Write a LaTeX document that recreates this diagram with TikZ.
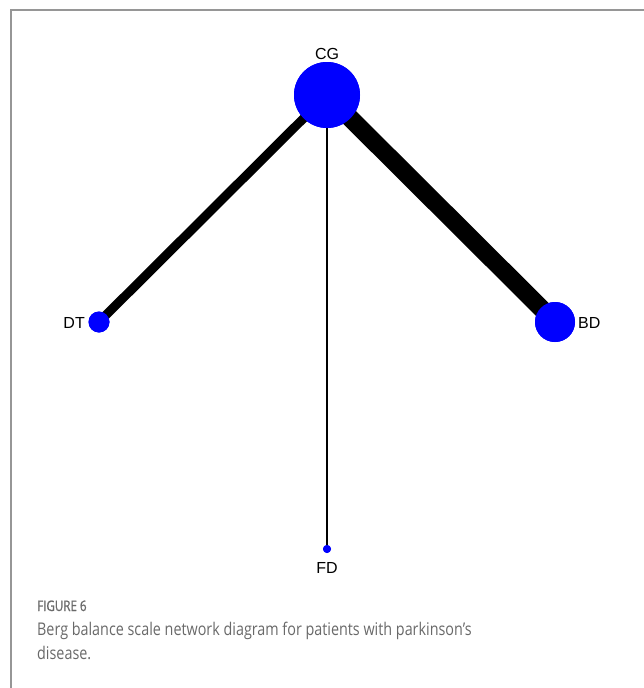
\documentclass[tikz,border=0pt]{standalone}
\usepackage{fontspec}
\setmainfont{Liberation Sans}
\newfontfamily\capfont[FakeStretch=0.82]{Open Sans}
\newfontfamily\figfont[FakeStretch=0.8,FakeBold=1.2]{Open Sans}
\definecolor{nodeblue}{RGB}{0,0,255}
\definecolor{capgray}{RGB}{105,105,105}
\definecolor{framegray}{RGB}{150,150,150}
\begin{document}
\begin{tikzpicture}[x=1pt,y=-1pt,
  netnode/.style={circle,fill=nodeblue,inner sep=0pt,draw=none},
  lbl/.style={font=\fontsize{16}{18}\selectfont,inner sep=0pt},
  captext/.style={anchor=base west,inner sep=0pt,text=capgray}]
\useasboundingbox (0,0) rectangle (644,688);
\draw[framegray,line width=1.5pt] (11,688) -- (11,10) -- (644,10);
\node[netnode,minimum size=66pt] (CG) at (327,95) {};
\node[netnode,minimum size=21pt] (DT) at (99,322) {};
\node[netnode,minimum size=40pt] (BD) at (555,322) {};
\node[netnode,minimum size=8pt] (FD) at (327,549) {};
\draw[line width=9pt] (CG.center) -- (DT.center);
\draw[line width=18pt] (CG.center) -- (BD.center);
\draw[line width=2.5pt] (CG.center) -- (FD.center);
\node[netnode,minimum size=66pt] at (CG) {};
\node[netnode,minimum size=21pt] at (DT) {};
\node[netnode,minimum size=40pt] at (BD) {};
\node[netnode,minimum size=8pt] at (FD) {};
\node[lbl] (CGl) at (327,54) {CG};
\node[lbl,anchor=east] (DTl) at (85,323) {DT};
\node[lbl,anchor=west] (BDl) at (578,323) {BD};
\node[lbl] (FDl) at (327,568) {FD};
\node[captext,font=\figfont\fontsize{14.5}{16}\selectfont] (fig) at (37,611) {FIGURE 6};
\node[captext,font=\capfont\fontsize{17.5}{24}\selectfont] (cap1) at (37,635) {Berg balance scale network diagram for patients with parkinson’s};
\node[captext,font=\capfont\fontsize{17.5}{24}\selectfont] (cap2) at (37,659) {disease.};
\end{tikzpicture}
\end{document}
